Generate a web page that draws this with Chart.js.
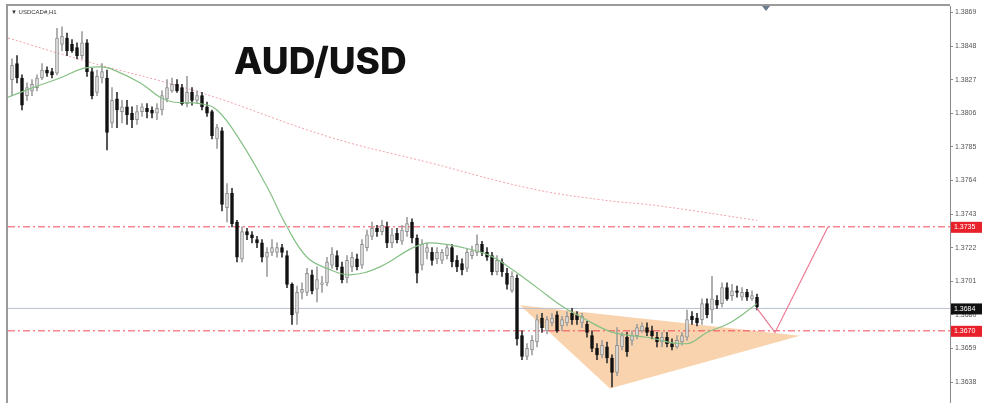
<!DOCTYPE html>
<html>
<head>
<meta charset="utf-8">
<script src="https://cdn.jsdelivr.net/npm/chart.js@4/dist/chart.umd.min.js"></script>
<style>
  html, body { margin: 0; padding: 0; background: #fff; }
  #wrap { width: 982px; height: 403px; position: relative; }
</style>
</head>
<body>
<div id="wrap"><canvas id="grafico"></canvas></div>
<script>
// H1 candles, one per bar
const opens = [
  1.3827, 1.3837, 1.3828, 1.3817, 1.3820, 1.3822, 1.3828, 1.3833, 1.3832, 1.3831,
  1.3849, 1.3853, 1.3849, 1.3847, 1.3842, 1.3850, 1.3832, 1.3819, 1.3828, 1.3828,
  1.3800, 1.3815, 1.3807, 1.3810, 1.3806, 1.3802, 1.3807, 1.3809, 1.3808, 1.3806,
  1.3808, 1.3815, 1.3820, 1.3824, 1.3822, 1.3812, 1.3819, 1.3814, 1.3817, 1.3810,
  1.3807, 1.3790, 1.3795, 1.3747, 1.3756, 1.3738, 1.3715, 1.3732, 1.3730, 1.3727,
  1.3725, 1.3716, 1.3719, 1.3719, 1.3722, 1.3717, 1.3699, 1.3681, 1.3694, 1.3694,
  1.3705, 1.3696, 1.3699, 1.3700, 1.3711, 1.3717, 1.3710, 1.3703, 1.3710, 1.3715,
  1.3711, 1.3722, 1.3729, 1.3734, 1.3732, 1.3735, 1.3725, 1.3731, 1.3726, 1.3732,
  1.3738, 1.3728, 1.3711, 1.3719, 1.3719, 1.3715, 1.3714, 1.3717, 1.3722, 1.3714,
  1.3712, 1.3709, 1.3717, 1.3719, 1.3724, 1.3719, 1.3717, 1.3707, 1.3713, 1.3706,
  1.3695, 1.3703, 1.3667, 1.3654, 1.3658, 1.3663, 1.3678, 1.3670, 1.3675, 1.3680,
  1.3673, 1.3675, 1.3681, 1.3680, 1.3675, 1.3674, 1.3667, 1.3659, 1.3655, 1.3660,
  1.3653, 1.3644, 1.3660, 1.3666, 1.3664, 1.3667, 1.3670, 1.3672, 1.3670, 1.3666,
  1.3663, 1.3666, 1.3662, 1.3660, 1.3663, 1.3666, 1.3679, 1.3678, 1.3677, 1.3687,
  1.3683, 1.3689, 1.3687, 1.3697, 1.3692, 1.3695, 1.3691, 1.3694, 1.3690, 1.3691
];
const highs = [
  1.3840, 1.3842, 1.3830, 1.3825, 1.3827, 1.3830, 1.3837, 1.3835, 1.3834, 1.3859,
  1.3860, 1.3856, 1.3852, 1.3850, 1.3857, 1.3852, 1.3834, 1.3833, 1.3837, 1.3833,
  1.3822, 1.3819, 1.3814, 1.3814, 1.3810, 1.3811, 1.3812, 1.3812, 1.3810, 1.3812,
  1.3820, 1.3827, 1.3828, 1.3827, 1.3824, 1.3829, 1.3822, 1.3820, 1.3819, 1.3813,
  1.3808, 1.3799, 1.3797, 1.3762, 1.3759, 1.3739, 1.3735, 1.3734, 1.3732, 1.3729,
  1.3727, 1.3722, 1.3727, 1.3725, 1.3724, 1.3720, 1.3700, 1.3698, 1.3700, 1.3709,
  1.3708, 1.3710, 1.3704, 1.3716, 1.3722, 1.3720, 1.3713, 1.3717, 1.3719, 1.3718,
  1.3727, 1.3733, 1.3738, 1.3736, 1.3739, 1.3738, 1.3734, 1.3734, 1.3736, 1.3741,
  1.3740, 1.3730, 1.3727, 1.3725, 1.3722, 1.3722, 1.3721, 1.3724, 1.3724, 1.3717,
  1.3715, 1.3721, 1.3723, 1.3730, 1.3726, 1.3722, 1.3719, 1.3717, 1.3715, 1.3709,
  1.3707, 1.3705, 1.3670, 1.3662, 1.3667, 1.3680, 1.3681, 1.3679, 1.3681, 1.3682,
  1.3679, 1.3682, 1.3684, 1.3682, 1.3681, 1.3676, 1.3670, 1.3662, 1.3664, 1.3663,
  1.3655, 1.3672, 1.3669, 1.3669, 1.3670, 1.3674, 1.3675, 1.3675, 1.3673, 1.3669,
  1.3669, 1.3669, 1.3665, 1.3667, 1.3669, 1.3683, 1.3682, 1.3681, 1.3690, 1.3690,
  1.3704, 1.3692, 1.3700, 1.3700, 1.3699, 1.3698, 1.3697, 1.3696, 1.3695, 1.3693
];
const lows = [
  1.3817, 1.3825, 1.3808, 1.3814, 1.3817, 1.3820, 1.3827, 1.3829, 1.3828, 1.3830,
  1.3845, 1.3842, 1.3844, 1.3840, 1.3840, 1.3829, 1.3815, 1.3817, 1.3825, 1.3783,
  1.3797, 1.3797, 1.3800, 1.3799, 1.3797, 1.3799, 1.3804, 1.3803, 1.3803, 1.3802,
  1.3805, 1.3813, 1.3819, 1.3819, 1.3811, 1.3810, 1.3811, 1.3812, 1.3808, 1.3804,
  1.3790, 1.3784, 1.3745, 1.3738, 1.3735, 1.3713, 1.3713, 1.3727, 1.3725, 1.3722,
  1.3713, 1.3704, 1.3717, 1.3716, 1.3716, 1.3697, 1.3674, 1.3674, 1.3690, 1.3692,
  1.3693, 1.3688, 1.3694, 1.3698, 1.3709, 1.3708, 1.3700, 1.3700, 1.3707, 1.3708,
  1.3709, 1.3720, 1.3727, 1.3729, 1.3730, 1.3722, 1.3722, 1.3725, 1.3724, 1.3729,
  1.3725, 1.3700, 1.3708, 1.3715, 1.3711, 1.3712, 1.3712, 1.3715, 1.3710, 1.3707,
  1.3705, 1.3707, 1.3715, 1.3717, 1.3717, 1.3714, 1.3705, 1.3705, 1.3704, 1.3696,
  1.3694, 1.3661, 1.3652, 1.3652, 1.3655, 1.3660, 1.3669, 1.3668, 1.3673, 1.3669,
  1.3670, 1.3673, 1.3674, 1.3674, 1.3672, 1.3666, 1.3657, 1.3652, 1.3653, 1.3650,
  1.3635, 1.3642, 1.3658, 1.3654, 1.3661, 1.3665, 1.3669, 1.3667, 1.3665, 1.3660,
  1.3660, 1.3660, 1.3658, 1.3659, 1.3661, 1.3664, 1.3674, 1.3673, 1.3674, 1.3678,
  1.3675, 1.3684, 1.3685, 1.3689, 1.3689, 1.3691, 1.3689, 1.3689, 1.3689, 1.3683
];
const closes = [
  1.3836, 1.3828, 1.3811, 1.3822, 1.3824, 1.3828, 1.3833, 1.3831, 1.3830, 1.3853,
  1.3854, 1.3845, 1.3845, 1.3842, 1.3850, 1.3832, 1.3817, 1.3829, 1.3832, 1.3794,
  1.3814, 1.3808, 1.3810, 1.3805, 1.3802, 1.3807, 1.3810, 1.3807, 1.3806, 1.3809,
  1.3817, 1.3822, 1.3824, 1.3820, 1.3812, 1.3819, 1.3814, 1.3817, 1.3810, 1.3806,
  1.3792, 1.3797, 1.3749, 1.3756, 1.3737, 1.3716, 1.3732, 1.3730, 1.3728, 1.3725,
  1.3716, 1.3719, 1.3722, 1.3722, 1.3719, 1.3699, 1.3680, 1.3694, 1.3696, 1.3706,
  1.3695, 1.3702, 1.3700, 1.3713, 1.3718, 1.3710, 1.3702, 1.3714, 1.3716, 1.3710,
  1.3724, 1.3730, 1.3734, 1.3732, 1.3736, 1.3725, 1.3730, 1.3727, 1.3733, 1.3737,
  1.3728, 1.3706, 1.3724, 1.3722, 1.3714, 1.3719, 1.3719, 1.3722, 1.3713, 1.3710,
  1.3708, 1.3719, 1.3720, 1.3724, 1.3719, 1.3716, 1.3707, 1.3714, 1.3707, 1.3699,
  1.3704, 1.3665, 1.3654, 1.3659, 1.3664, 1.3677, 1.3672, 1.3677, 1.3678, 1.3670,
  1.3677, 1.3679, 1.3677, 1.3677, 1.3679, 1.3669, 1.3659, 1.3655, 1.3661, 1.3653,
  1.3644, 1.3661, 1.3667, 1.3657, 1.3667, 1.3672, 1.3673, 1.3669, 1.3667, 1.3663,
  1.3666, 1.3662, 1.3660, 1.3664, 1.3667, 1.3677, 1.3677, 1.3675, 1.3687, 1.3680,
  1.3690, 1.3686, 1.3697, 1.3690, 1.3695, 1.3694, 1.3694, 1.3691, 1.3692, 1.3685
];

// moving averages (bar index, price)
const maRapidaX = [-0.8, 4.2, 9.6, 14.2, 17.6, 19.6, 25.6, 29.6, 32.2, 37.6, 41, 45.6, 51, 55, 59, 63, 67.6, 73.6, 80.2, 83.6, 90.2, 95.6, 100.2, 105, 110.2, 114.2, 120.2, 127, 135, 139, 143.6, 149];
const maRapidaY = [1.3816, 1.3822, 1.3828, 1.3834, 1.3835, 1.3834, 1.3825, 1.3816, 1.3813, 1.3812, 1.3808, 1.3789, 1.3760, 1.3735, 1.3716, 1.3709, 1.3705, 1.3710, 1.3722, 1.3725, 1.3722, 1.3717, 1.3708, 1.3697, 1.3685, 1.3678, 1.3669, 1.3666, 1.3662, 1.3669, 1.3675, 1.3687];
const maLentaX = [-0.8, 14.2, 37.6, 63.6, 83.6, 103.6, 117.6, 129.6, 149];
const maLentaY = [1.3853, 1.3839, 1.3819, 1.3791, 1.3775, 1.3759, 1.3752, 1.3748, 1.3739];

// drawn objects
const projecaoX = [149, 152.6, 163.2];
const projecaoY = [1.3684, 1.3669, 1.3735];
const trianguloX = [101.6, 119.6, 157.6, 101.6];
const trianguloY = [1.3686, 1.3634, 1.3667, 1.3686];
const resistencia = 1.3735;
const suporte = 1.3670;
const precoAtual = 1.3684;

const tickValues = [1.3869, 1.3848, 1.3827, 1.3806, 1.3785, 1.3764, 1.3743, 1.3722, 1.3701, 1.3680, 1.3659, 1.3638];

const X_MIN = -0.8, X_MAX = 187.6;

const alta = opens.map((o, i) => closes[i] >= o);
const pares = (xs, ys) => xs.map((x, i) => ({ x: x, y: ys[i] }));
const nivel = v => [{ x: X_MIN, y: v }, { x: X_MAX, y: v }];

const extras = {
  id: 'extras',
  afterDraw(chart) {
    const ctx = chart.ctx;
    const a = chart.chartArea;
    const y = chart.scales.y;
    ctx.save();
    // frame
    ctx.strokeStyle = '#9a9a9a';
    ctx.lineWidth = 2;
    ctx.beginPath();
    ctx.moveTo(a.left - 1, a.bottom);
    ctx.lineTo(a.left - 1, a.top - 1);
    ctx.lineTo(a.right, a.top - 1);
    ctx.stroke();

    // symbol header
    ctx.fillStyle = '#333';
    ctx.font = '6px "Liberation Sans"';
    ctx.textBaseline = 'middle';
    ctx.fillText('▼ USDCAD#,H1', a.left + 3, a.top + 6);

    // little marker on the top edge
    ctx.fillStyle = '#6b7a8f';
    ctx.beginPath();
    ctx.moveTo(762, a.top);
    ctx.lineTo(770, a.top);
    ctx.lineTo(766, a.top + 5);
    ctx.closePath();
    ctx.fill();

    // title
    ctx.fillStyle = '#111';
    ctx.font = '800 37px Inter';
    ctx.textBaseline = 'alphabetic';
    ctx.fillText('AUD/USD', 234, 74);

    // price boxes on the axis
    const caixas = [
      { v: resistencia, bg: '#e8202a' },
      { v: precoAtual, bg: '#111' },
      { v: suporte, bg: '#e8202a' }
    ];
    ctx.font = '7px "Liberation Sans"';
    ctx.textBaseline = 'middle';
    caixas.forEach(c => {
      const py = y.getPixelForValue(c.v);
      ctx.fillStyle = c.bg;
      ctx.fillRect(a.right + 1, py - 5, 32, 11);
      ctx.fillStyle = '#fff';
      ctx.fillText(c.v.toFixed(4), a.right + 4, py + 0.5);
    });
    ctx.restore();
  }
};

new Chart(document.getElementById('grafico'), {
  type: 'bar',
  data: {
    datasets: [
      {
        type: 'line',
        data: pares(trianguloX, trianguloY),
        backgroundColor: 'rgba(248,200,152,0.8)',
        borderWidth: 0,
        pointRadius: 0,
        fill: 'shape',
        tension: 0,
        order: 10
      },
      {
        type: 'line',
        data: nivel(resistencia),
        borderColor: '#f2475a',
        borderWidth: 1,
        borderDash: [7, 3, 2, 3],
        pointRadius: 0,
        order: 9
      },
      {
        type: 'line',
        data: nivel(suporte),
        borderColor: '#f2475a',
        borderWidth: 1,
        borderDash: [7, 3, 2, 3],
        pointRadius: 0,
        order: 9
      },
      {
        type: 'line',
        data: nivel(precoAtual),
        borderColor: '#b9bfcc',
        borderWidth: 1,
        pointRadius: 0,
        order: 8
      },
      {
        type: 'line',
        data: pares(maLentaX, maLentaY),
        borderColor: '#f3a0aa',
        borderWidth: 1,
        borderDash: [2, 2],
        pointRadius: 0,
        tension: 0.4,
        order: 7
      },
      {
        data: opens.map((o, i) => ({ x: i, y: [lows[i], highs[i]] })),
        backgroundColor: alta.map(u => u ? '#a0a0a0' : '#333'),
        barThickness: 1,
        grouped: false,
        order: 3
      },
      {
        data: opens.map((o, i) => ({ x: i, y: [Math.min(o, closes[i]), Math.max(o, closes[i])] })),
        backgroundColor: alta.map(u => u ? '#e4e4e4' : '#111'),
        borderColor: alta.map(u => u ? '#8c8c8c' : '#111'),
        borderWidth: 1,
        borderSkipped: false,
        barThickness: 3,
        minBarLength: 1,
        grouped: false,
        order: 2
      },
      {
        type: 'line',
        data: pares(maRapidaX, maRapidaY),
        borderColor: '#86c086',
        borderWidth: 1.2,
        pointRadius: 0,
        tension: 0.4,
        order: 1
      },
      {
        type: 'line',
        data: pares(projecaoX, projecaoY),
        borderColor: '#ea7a92',
        borderWidth: 1.2,
        pointRadius: 0,
        tension: 0,
        order: 0
      }
    ]
  },
  options: {
    responsive: true,
    maintainAspectRatio: false,
    animation: false,
    layout: { padding: { left: 8, top: 6, right: 0, bottom: 0 } },
    plugins: { legend: { display: false }, tooltip: { enabled: false } },
    scales: {
      x: {
        type: 'linear',
        min: X_MIN,
        max: X_MAX,
        offset: false,
        display: false
      },
      y: {
        position: 'right',
        min: 1.36249,
        max: 1.38730,
        afterBuildTicks: s => { s.ticks = tickValues.map(v => ({ value: v })); },
        afterFit: s => { s.width = 32; s.paddingTop = 0; s.paddingBottom = 0; },
        border: { display: true, color: '#8a8a8a', width: 1 },
        grid: { drawOnChartArea: false, drawTicks: true, tickLength: 3, color: '#8a8a8a' },
        ticks: {
          color: '#555',
          font: { family: 'Liberation Sans', size: 7 },
          padding: 2,
          callback: v => Number(v).toFixed(4)
        }
      }
    }
  },
  plugins: [extras]
});
</script>
</body>
</html>
